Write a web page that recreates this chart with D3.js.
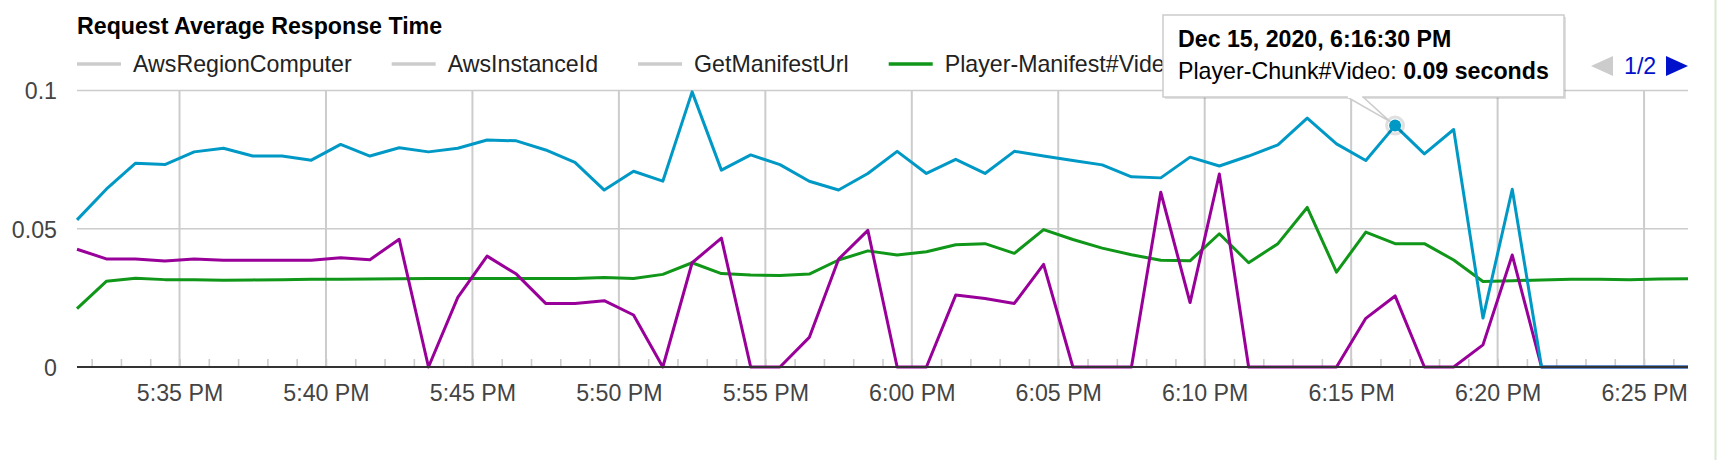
<!DOCTYPE html>
<html><head><meta charset="utf-8">
<script src="https://cdn.jsdelivr.net/npm/d3@7"></script>
<style>
body{margin:0;background:#fff;}
svg{display:block;font-family:"Liberation Sans",Arial,Helvetica,sans-serif;}
</style></head><body>
<svg id="chart" width="1722" height="460"></svg>
<script>
// ---- data ----
const times = ["17:31:30","17:32:30","17:33:30","17:34:30","17:35:30","17:36:30","17:37:30","17:38:30",
"17:39:30","17:40:30","17:41:30","17:42:30","17:43:30","17:44:30","17:45:30","17:46:30","17:47:30",
"17:48:30","17:49:30","17:50:30","17:51:30","17:52:30","17:53:30","17:54:30","17:55:30","17:56:30",
"17:57:30","17:58:30","17:59:30","18:00:30","18:01:30","18:02:30","18:03:30","18:04:30","18:05:30",
"18:06:30","18:07:30","18:08:30","18:09:30","18:10:30","18:11:30","18:12:30","18:13:30","18:14:30",
"18:15:30","18:16:30","18:17:30","18:18:30","18:19:30","18:20:30","18:21:30","18:22:30","18:23:30",
"18:24:30","18:25:30","18:26:30"];

const legendNames  = ["AwsRegionComputer","AwsInstanceId","GetManifestUrl","Player-Manifest#Video"];
const legendColors = ["#cccccc","#cccccc","#cccccc","#109618"];

const manifestVideo = [0.0211,0.0310,0.0321,0.0316,0.0316,0.0314,0.0315,0.0316,0.0317,0.0317,0.0318,
0.0319,0.0320,0.0320,0.0320,0.0320,0.0320,0.0320,0.0324,0.0320,0.0335,0.0377,0.0338,0.0333,0.0331,
0.0336,0.0387,0.0420,0.0405,0.0417,0.0442,0.0446,0.0411,0.0497,0.0461,0.0430,0.0406,0.0386,0.0384,
0.0482,0.0377,0.0446,0.0577,0.0343,0.0488,0.0446,0.0446,0.0387,0.0309,0.0312,0.0315,0.0317,0.0317,
0.0316,0.0318,0.0319];

const manifestAudio = [0.0426,0.0391,0.0391,0.0383,0.0391,0.0386,0.0386,0.0386,0.0386,0.0395,0.0388,
0.0462,0,0.0252,0.0401,0.0336,0.0230,0.0230,0.0240,0.0188,0,0.0377,0.0466,0,0,0.0107,0.0390,0.0494,
0,0,0.0260,0.0248,0.0230,0.0371,0,0,0,0.0632,0.0233,0.0698,0,0,0,0,0.0176,0.0257,0,0,0.0080,0.0405,
0,0,0,0,0,0];

const chunkVideo = [0.0532,0.0643,0.0737,0.0732,0.0778,0.0791,0.0763,0.0763,0.0748,0.0805,0.0763,
0.0793,0.0778,0.0791,0.0821,0.0818,0.0785,0.0740,0.0640,0.0708,0.0672,0.0995,0.0712,0.0767,0.0732,
0.0672,0.0640,0.0700,0.0780,0.0700,0.0751,0.0700,0.0780,0.0763,0.0747,0.0731,0.0688,0.0684,0.0759,
0.0727,0.0763,0.0803,0.0900,0.0807,0.0747,0.0873,0.0771,0.0859,0.0177,0.0643,0,0,0,0,0,0];

const xTickTimes  = ["17:35:00","17:40:00","17:45:00","17:50:00","17:55:00","18:00:00","18:05:00",
"18:10:00","18:15:00","18:20:00","18:25:00"];
const xTickLabels = ["5:35 PM","5:40 PM","5:45 PM","5:50 PM","5:55 PM","6:00 PM","6:05 PM",
"6:10 PM","6:15 PM","6:20 PM","6:25 PM"];
const yTickValues = [0, 0.05, 0.1];
const yTickLabels = ["0","0.05","0.1"];

const tooltipIndex = 45;
const tooltipTitle = "Dec 15, 2020, 6:16:30 PM";
const tooltipSeries = "Player-Chunk#Video: ";
const tooltipValue = "0.09 seconds";

// ---- chart ----
const FS = 23.2;
const parse = d3.timeParse("%Y-%m-%d %H:%M:%S");
const dates = times.map(t => parse("2020-12-15 " + t));
const xTicks = xTickTimes.map(t => parse("2020-12-15 " + t));

const svg = d3.select("#chart");
const L = 77, R = 1688, T = 90.5, B = 367;
const x = d3.scaleTime().domain([dates[0], dates[dates.length-1]]).range([L, R]);
const y = d3.scaleLinear().domain([0, 0.1]).range([B, T]);

// right green border
svg.append("line").attr("x1",1715.5).attr("x2",1715.5).attr("y1",0).attr("y2",460)
  .attr("stroke","#d9ead3").attr("stroke-width",2);

// horizontal gridlines
svg.append("g").selectAll("line").data(yTickValues.filter(v=>v>0)).join("line")
  .attr("x1",L).attr("x2",R).attr("y1",d=>y(d)).attr("y2",d=>y(d))
  .attr("stroke","#cccccc").attr("stroke-width",1.6);

// vertical gridlines
svg.append("g").selectAll("line").data(xTicks).join("line")
  .attr("x1",d=>x(d)).attr("x2",d=>x(d)).attr("y1",T).attr("y2",B)
  .attr("stroke","#cccccc").attr("stroke-width",2);

// minor ticks (every minute)
const minorTicks = d3.timeMinute.range(d3.timeMinute.ceil(dates[0]), dates[dates.length-1]);
svg.append("g").attr("transform",`translate(0,${B})`)
  .call(d3.axisBottom(x).tickValues(minorTicks).tickSize(-8).tickFormat(""))
  .call(g=>g.select(".domain").remove())
  .call(g=>g.selectAll(".tick line").attr("stroke","#cccccc").attr("stroke-width",1.6));

// x axis labels
svg.append("g").attr("transform",`translate(0,${B})`)
  .call(d3.axisBottom(x).tickValues(xTicks).tickSize(0).tickPadding(0)
        .tickFormat((d,i)=>xTickLabels[i]))
  .call(g=>g.select(".domain").remove())
  .call(g=>g.selectAll("text").attr("dy",null).attr("y",34)
        .attr("font-size",FS).attr("font-family",null).attr("fill","#444444"));

// y axis labels
svg.append("g").attr("transform",`translate(${L},0)`)
  .call(d3.axisLeft(y).tickValues(yTickValues).tickSize(0).tickPadding(20)
        .tickFormat((d,i)=>yTickLabels[i]))
  .call(g=>g.select(".domain").remove())
  .call(g=>g.selectAll("text").attr("dy","0.36em")
        .attr("font-size",FS).attr("font-family",null).attr("fill","#444444"));

// series lines
const line = d3.line().x((d,i)=>x(dates[i])).y(d=>y(d));
[[manifestVideo,"#109618"],[manifestAudio,"#990099"],[chunkVideo,"#0099c6"]].forEach(([vals,col])=>{
  svg.append("path").datum(vals).attr("d",line).attr("fill","none")
    .attr("stroke",col).attr("stroke-width",3).attr("stroke-linejoin","round");
});

// baseline
svg.append("line").attr("x1",L).attr("x2",R).attr("y1",B).attr("y2",B)
  .attr("stroke","#333333").attr("stroke-width",2);

// title
svg.append("text").attr("x",77).attr("y",34).attr("font-size",FS).attr("font-weight","bold")
  .attr("fill","#000").text("Request Average Response Time");

// legend
let lx = 77;
const lg = svg.append("g");
legendNames.forEach((name,i)=>{
  lg.append("line").attr("x1",lx).attr("x2",lx+44).attr("y1",64).attr("y2",64)
    .attr("stroke",legendColors[i]).attr("stroke-width",3.5);
  const t = lg.append("text").attr("x",lx+56).attr("y",72).attr("font-size",FS)
    .attr("fill","#222222").text(name);
  lx = lx + 56 + t.node().getComputedTextLength() + 40;
});

// pager
svg.append("path").attr("d","M1591,66 L1613,56 L1613,76 Z").attr("fill","#cccccc");
svg.append("text").attr("x",1624).attr("y",74).attr("font-size",FS).attr("fill","#0011cc").text("1/2");
svg.append("path").attr("d","M1688,66 L1666,56 L1666,76 Z").attr("fill","#0011cc");

// focused point
const px = x(dates[tooltipIndex]), py = y(chunkVideo[tooltipIndex]);
svg.append("circle").attr("cx",px).attr("cy",py).attr("r",8.5).attr("fill","none")
  .attr("stroke","#000").attr("stroke-opacity",0.12).attr("stroke-width",3);
svg.append("circle").attr("cx",px).attr("cy",py).attr("r",6).attr("fill","#0099c6");

// tooltip
const tb = {x:1163, y:15, w:401, h:82};
svg.append("rect").attr("x",tb.x+2).attr("y",tb.y+2).attr("width",tb.w).attr("height",tb.h)
  .attr("fill","#000").attr("fill-opacity",0.12);
svg.append("path")
  .attr("d",`M${tb.x+184},${tb.y+tb.h} L${px-5},${py-4} L${tb.x+200},${tb.y+tb.h} Z`)
  .attr("fill","#fff").attr("stroke","#cccccc").attr("stroke-width",1.5);
svg.append("rect").attr("x",tb.x).attr("y",tb.y).attr("width",tb.w).attr("height",tb.h)
  .attr("fill","#fff").attr("stroke","#cccccc").attr("stroke-width",1.5);
svg.append("rect").attr("x",tb.x+184.8).attr("y",tb.y+tb.h-2).attr("width",14.4).attr("height",3)
  .attr("fill","#fff");
svg.append("text").attr("x",tb.x+15).attr("y",47).attr("font-size",FS).attr("font-weight","bold")
  .attr("fill","#000").text(tooltipTitle);
const t2 = svg.append("text").attr("x",tb.x+15).attr("y",79).attr("font-size",FS).attr("fill","#000");
t2.append("tspan").text(tooltipSeries);
t2.append("tspan").attr("font-weight","bold").text(tooltipValue);
</script>
</body></html>
